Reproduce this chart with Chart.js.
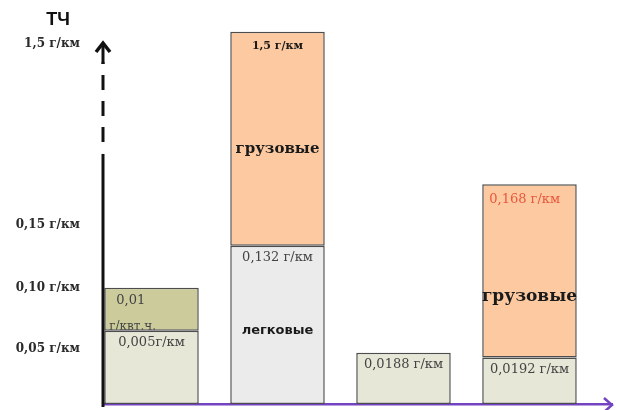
<!DOCTYPE html>
<html>
<head>
<meta charset="utf-8">
<script src="https://cdn.jsdelivr.net/npm/chart.js@4/dist/chart.umd.min.js"></script>
<style>
  html, body { margin: 0; padding: 0; background: #ffffff; }
  canvas { display: block; }
</style>
</head>
<body>
<canvas id="tchGrafiks" width="617" height="410"></canvas>
<script>
// Категории (столбцы слева направо)
const kategorii = ["Евро-6 грузовые", "Евро-6 легковые/грузовые", "США легковые", "США легковые/грузовые"];

// Высоты нижних и верхних частей столбцов (в условных единицах разорванной оси)
const nizhnieZnacheniya = [0.063, 0.136, 0.044, 0.040];
const verkhnieZnacheniya = [0.037, 0.184, null, 0.149];

// Деления оси Y и их подписи
const deleniyaY = [0.047, 0.100, 0.154, 0.310];
const podpisiY = ["0,05 г/км", "0,10 г/км", "0,15 г/км", "1,5 г/км"];

// Подписи внутри столбцов
const nizhnieNadpisi = ["0,005г/км", "0,132 г/км", "0,0188 г/км", "0,0192 г/км"];
const verkhnieNadpisi = ["0,01", "1,5 г/км", "", "0,168 г/км"];
const srednieNadpisi = ["", "грузовые", "", "грузовые"];

const nizhnieCveta = ["#e7e7d8", "#ebebeb", "#e7e7d8", "#e7e7d8"];
const verkhnieCveta = ["#cbcb9c", "#fcc9a1", "#fcc9a1", "#fcc9a1"];

const serif = "'DejaVu Serif', 'Liberation Serif', serif";
const sans = "'DejaVu Sans', 'Liberation Sans', sans-serif";

// Оси рисуем сами: сплошная часть, пунктир с разрывом и стрелки
const osiPlugin = {
  id: "osi",
  afterDraw(chart) {
    const ctx = chart.ctx;
    const y = chart.scales.y;
    const area = chart.chartArea;
    const x0 = area.left;
    const razryv = y.getPixelForValue(0.215);
    ctx.save();
    ctx.strokeStyle = "#111111";
    ctx.lineWidth = 3;
    ctx.beginPath();
    ctx.moveTo(x0, area.bottom + 3);
    ctx.lineTo(x0, razryv);
    ctx.stroke();
    ctx.setLineDash([15, 11]);
    ctx.beginPath();
    ctx.moveTo(x0, razryv - 12);
    ctx.lineTo(x0, 62);
    ctx.stroke();
    ctx.setLineDash([]);
    ctx.beginPath();
    ctx.moveTo(x0, 64);
    ctx.lineTo(x0, 44);
    ctx.stroke();
    ctx.lineWidth = 3.5;
    ctx.beginPath();
    ctx.moveTo(x0 - 7, 52);
    ctx.lineTo(x0, 43);
    ctx.lineTo(x0 + 7, 52);
    ctx.stroke();

    // стрелка оси X
    ctx.strokeStyle = "#7443c2";
    ctx.lineWidth = 2.5;
    ctx.beginPath();
    ctx.moveTo(area.right - 8, area.bottom - 6);
    ctx.lineTo(area.right, area.bottom + 1);
    ctx.lineTo(area.right - 8, area.bottom + 8);
    ctx.stroke();

    // заголовок оси
    ctx.fillStyle = "#111111";
    ctx.font = "bold 18px 'Liberation Sans', Arial, sans-serif";
    ctx.textAlign = "center";
    ctx.textBaseline = "middle";
    ctx.fillText("ТЧ", 58, 20);
    ctx.restore();
  }
};

// Подписи внутри столбцов
const nadpisiPlugin = {
  id: "nadpisi",
  afterDatasetsDraw(chart) {
    const ctx = chart.ctx;
    const nizh = chart.getDatasetMeta(0).data;
    const verkh = chart.getDatasetMeta(1).data;
    ctx.save();
    ctx.textBaseline = "middle";

    nizh.forEach((el, i) => {
      ctx.fillStyle = "#444444";
      ctx.font = "13px " + serif;
      ctx.textAlign = "center";
      ctx.fillText(nizhnieNadpisi[i], el.x, el.y + 12);
    });

    // легковые
    const n1 = nizh[1];
    ctx.fillStyle = "#1a1a1a";
    ctx.font = "bold 13px " + sans;
    ctx.fillText("легковые", n1.x, (n1.y + n1.base) / 2 + 6);

    verkh.forEach((el, i) => {
      if (!el || verkhnieZnacheniya[i] === null) return;
      const txt = verkhnieNadpisi[i];
      if (i === 0) {
        ctx.fillStyle = "#444444";
        ctx.font = "13px " + serif;
        ctx.textAlign = "left";
        ctx.fillText(txt, el.x - el.width / 2 + 12, el.y + 13);
        // вторая строка обрезана границей нижней части
        ctx.save();
        ctx.beginPath();
        ctx.rect(el.x - el.width / 2, el.y, el.width, el.base - el.y - 1);
        ctx.clip();
        ctx.font = "12px " + serif;
        ctx.textBaseline = "alphabetic";
        ctx.fillText("г/квт.ч.", el.x - el.width / 2 + 5, el.base - 1);
        ctx.restore();
      } else if (i === 1) {
        ctx.fillStyle = "#1a1a1a";
        ctx.font = "bold 11px " + serif;
        ctx.textAlign = "center";
        ctx.fillText(txt, el.x, el.y + 14);
        ctx.font = "bold 15px " + serif;
        ctx.fillText(srednieNadpisi[i], el.x, (el.y + el.base) / 2 + 10);
      } else if (i === 3) {
        ctx.fillStyle = "#e8583c";
        ctx.font = "13px " + serif;
        ctx.textAlign = "left";
        ctx.fillText(txt, el.x - el.width / 2 + 7, el.y + 15);
        ctx.fillStyle = "#1a1a1a";
        ctx.font = "bold 17px " + serif;
        ctx.textAlign = "center";
        ctx.fillText(srednieNadpisi[i], el.x, el.y + (el.base - el.y) * 0.65);
      }
    });
    ctx.restore();
  }
};

const toTochki = arr => arr.map((v, i) => ({ x: i, y: v }));

new Chart(document.getElementById("tchGrafiks"), {
  type: "bar",
  data: {
    labels: kategorii,
    datasets: [
      {
        label: "нижняя часть",
        data: toTochki(nizhnieZnacheniya),
        backgroundColor: nizhnieCveta,
        borderColor: "#4d4d4d",
        borderWidth: 1.5,
        borderSkipped: false
      },
      {
        label: "верхняя часть",
        data: toTochki(verkhnieZnacheniya),
        backgroundColor: verkhnieCveta,
        borderColor: "#4d4d4d",
        borderWidth: 1.5,
        borderSkipped: false
      }
    ]
  },
  options: {
    responsive: false,
    animation: false,
    layout: { padding: { left: 0, right: 5, top: 26, bottom: 6 } },
    datasets: { bar: { categoryPercentage: 1, barPercentage: 0.75 } },
    plugins: {
      legend: { display: false },
      tooltip: { enabled: false }
    },
    scales: {
      x: {
        type: "linear",
        stacked: true,
        offset: false,
        min: -0.385,
        max: 3.655,
        z: 1,
        grid: { display: false, drawTicks: false, offset: false },
        ticks: { display: false },
        border: { display: true, color: "#7443c2", width: 2.5 },
        afterBuildTicks(scale) {
          scale.ticks = kategorii.map((k, i) => ({ value: i }));
        },
        afterFit(scale) {
          scale.height = 0;
          scale.paddingLeft = 0;
          scale.paddingRight = 0;
        }
      },
      y: {
        stacked: true,
        min: 0,
        max: 0.325,
        grid: { display: false, drawTicks: false },
        border: { display: false },
        afterFit(scale) {
          scale.width = 103;
          scale.paddingTop = 0;
          scale.paddingBottom = 0;
        },
        afterBuildTicks(scale) {
          scale.ticks = deleniyaY.map(v => ({ value: v }));
        },
        ticks: {
          padding: 23,
          color: "#2a2a2a",
          font: { family: serif, size: 12, weight: "bold" },
          callback: (value, index) => podpisiY[index]
        }
      }
    }
  },
  plugins: [osiPlugin, nadpisiPlugin]
});
</script>
</body>
</html>
